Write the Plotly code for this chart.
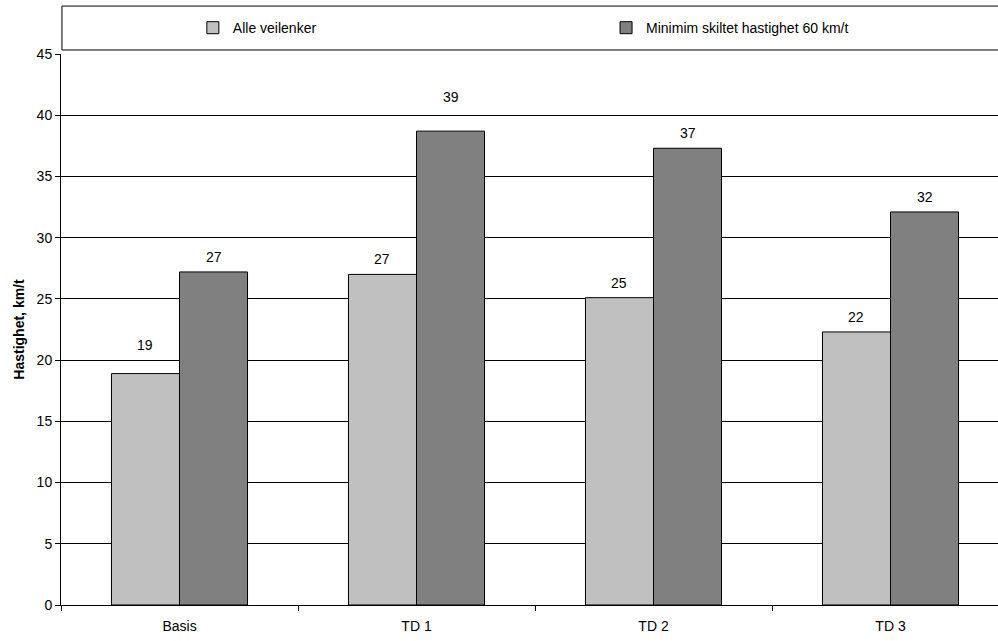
import plotly.graph_objects as go

# Mean speed per scenario (km/t)
categories = ["Basis", "TD 1", "TD 2", "TD 3"]
alle_veilenker = [18.9, 27.0, 25.1, 22.3]
min_skiltet_60 = [27.2, 38.7, 37.3, 32.1]
series_names = ["Alle veilenker", "Minimim skiltet hastighet 60 km/t"]
y_ticks = [0, 5, 10, 15, 20, 25, 30, 35, 40, 45]

FONT = "Liberation Sans, Arial, sans-serif"
LIGHT = "#C0C0C0"
DARK = "#808080"
FS = 14

fig = go.Figure()
fig.add_trace(go.Bar(
    x=categories, y=alle_veilenker, name=series_names[0],
    marker=dict(color=LIGHT, line=dict(color="black", width=1)),
    legend="legend",
))
fig.add_trace(go.Bar(
    x=categories, y=min_skiltet_60, name=series_names[1],
    marker=dict(color=DARK, line=dict(color="black", width=1)),
    legend="legend2",
))

# value labels above the bars (a couple sit a little higher)
extra_lift = {("Basis", 0): 14, ("TD 1", 1): 19}
for s, values in enumerate([alle_veilenker, min_skiltet_60]):
    offset = -0.1435 if s == 0 else 0.1435
    for i, (cat, v) in enumerate(zip(categories, values)):
        fig.add_annotation(
            x=i + offset, y=v, xref="x", yref="y",
            text=str(round(v)), showarrow=False,
            yanchor="middle", yshift=15 + extra_lift.get((cat, s), 0),
            font=dict(family=FONT, size=FS, color="black"),
        )

# frame around the legend
fig.add_shape(
    type="rect", xref="paper", yref="paper",
    x0=0.001, x1=1.05, y0=1.0073, y1=1.087,
    line=dict(color="black", width=1), fillcolor="white", layer="below",
)

fig.update_layout(
    width=998, height=641,
    margin=dict(l=61, r=0, t=54, b=36),
    paper_bgcolor="white", plot_bgcolor="white",
    barmode="group", bargap=0.426, bargroupgap=0,
    font=dict(family=FONT, size=FS, color="black"),
    legend=dict(
        orientation="h", x=0.1407, y=1.047, xanchor="left", yanchor="middle",
        bgcolor="rgba(0,0,0,0)", font=dict(family=FONT, size=FS),
        itemwidth=30,
    ),
    legend2=dict(
        orientation="h", x=0.5817, y=1.047, xanchor="left", yanchor="middle",
        bgcolor="rgba(0,0,0,0)", font=dict(family=FONT, size=FS),
        itemwidth=30,
    ),
    showlegend=True,
)

fig.update_xaxes(
    type="category", range=[-0.5, 3.4536],
    showline=True, linecolor="black", linewidth=1,
    ticks="outside", tickson="boundaries", ticklen=5, tickcolor="black",
    ticklabelstandoff=8,
    showgrid=False, tickfont=dict(family=FONT, size=FS),
)
fig.update_yaxes(
    range=[0, 45], tickvals=y_ticks,
    showline=True, linecolor="black", linewidth=1,
    ticks="outside", ticklen=5, tickcolor="black",
    showgrid=True, gridcolor="black", gridwidth=1,
    zeroline=False, tickfont=dict(family=FONT, size=FS),
    title=dict(text="<b>Hastighet, km/t</b>", font=dict(family=FONT, size=14), standoff=8),
)

fig.write_html("out.html")
